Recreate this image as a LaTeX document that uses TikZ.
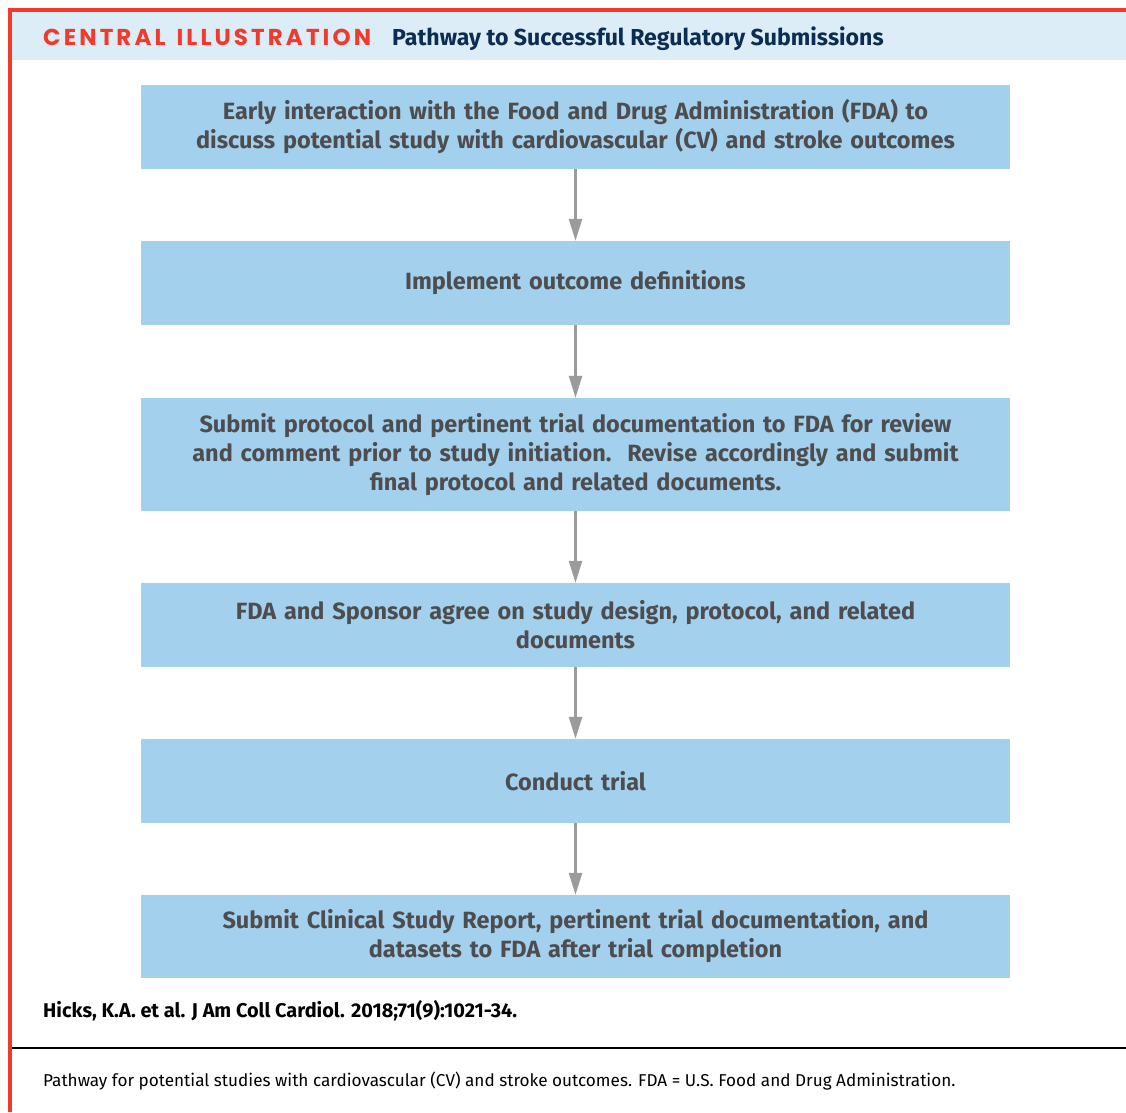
\documentclass[tikz,border=0pt]{standalone}
\usepackage{fontspec}
\setmainfont{Fira Sans}
\newfontfamily\headfont{Poppins}
\usetikzlibrary{arrows.meta}
\definecolor{jred}{HTML}{F03A2C}
\definecolor{jhead}{HTML}{DDEDF8}
\definecolor{jnavy}{HTML}{0B2D52}
\definecolor{jbox}{HTML}{A3D0EC}
\definecolor{jtext}{HTML}{4D4D4F}
\definecolor{jarrow}{HTML}{9B9B9D}
\tikzset{
  stepbox/.style={fill=jbox, draw=none, text width=869pt, inner sep=0pt, align=center,
    text=jtext, font=\fontsize{23.5}{29}\selectfont\bfseries, minimum height=84pt},
  flow/.style={draw=jarrow, line width=2.5pt, -{Triangle[length=22pt,width=13pt]}, shorten >=0pt},
}
\begin{document}
\begin{tikzpicture}[x=1pt,y=-1pt]
\useasboundingbox (0,0) rectangle (1126,1112);
\fill[white] (0,0) rectangle (1126,1112);
% header
\fill[jhead] (12,12) rectangle (1126,60);
\fill[jred] (8,8) rectangle (1126,12);
\fill[jred] (8,8) rectangle (12,1112);
\node[anchor=base west, inner sep=0pt, text=jred, font=\headfont\fontsize{23}{26}\selectfont\bfseries\addfontfeature{LetterSpace=13.5}] (hd1) at (43,45) {CENTRAL\hspace{3pt} ILLUSTRATION};
\node[anchor=base west, inner sep=0pt, text=jnavy, font=\fontsize{23.1}{26}\selectfont\bfseries] (hd2) at (392,45) {Pathway to Successful Regulatory Submissions};
% boxes
\node[stepbox] (b1) at (575.5,127) {Early interaction with the Food and Drug Administration (FDA) to\\discuss potential study with cardiovascular (CV) and stroke outcomes};
\node[stepbox] (b2) at (575.5,283) {Implement outcome definitions};
\node[stepbox, minimum height=113pt] (b3) at (575.5,454.5) {Submit protocol and pertinent trial documentation to FDA for review\\and comment prior to study initiation.\ \ Revise accordingly and submit\\final protocol and related documents.};
\node[stepbox] (b4) at (575.5,625) {FDA and Sponsor agree on study design, protocol, and related\\documents};
\node[stepbox] (b5) at (575.5,781) {Conduct trial};
\node[stepbox, minimum height=83pt] (b6) at (575.5,936.5) {Submit Clinical Study Report, pertinent trial documentation, and\\datasets to FDA after trial completion};
% arrows
\draw[flow] (b1.south) -- (b2.north);
\draw[flow] (b2.south) -- (b3.north);
\draw[flow] (b3.south) -- (b4.north);
\draw[flow] (b4.south) -- (b5.north);
\draw[flow] (b5.south) -- (b6.north);
% footer
\node[anchor=base west, inner sep=0pt, font=\fontsize{19.9}{23}\selectfont\bfseries] (cite) at (43,1017) {Hicks, K.A. et al. J Am Coll Cardiol. 2018;71(9):1021-34.};
\fill[black] (12,1047) rectangle (1126,1049);
\node[anchor=base west, inner sep=0pt, font=\fontsize{17.15}{21}\selectfont] (cap) at (43,1086) {Pathway for potential studies with cardiovascular (CV) and stroke outcomes. FDA = U.S. Food and Drug Administration.};
\end{tikzpicture}
\end{document}
